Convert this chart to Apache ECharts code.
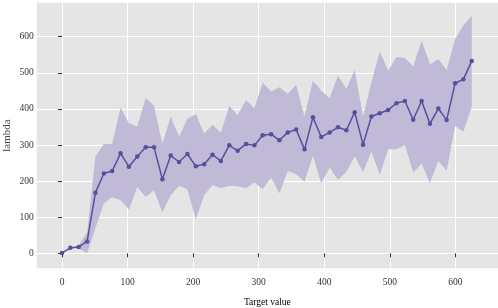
<!DOCTYPE html>
<html>
<head>
<meta charset="utf-8">
<script src="https://cdn.jsdelivr.net/npm/echarts@6/dist/echarts.min.js"></script>
<style>html,body{margin:0;padding:0;background:#fff}#c{width:498px;height:308px}</style>
</head>
<body>
<div id="c"></div>
<script>
var targetValues = [0, 12.8, 25.5, 38.3, 51, 63.8, 76.5, 89.3, 102, 114.8, 127.6, 140.3, 153.1, 165.8, 178.6, 191.3, 204.1, 216.8, 229.6, 242.3, 255.1, 267.9, 280.6, 293.4, 306.1, 318.9, 331.6, 344.4, 357.1, 369.9, 382.7, 395.4, 408.2, 420.9, 433.7, 446.4, 459.2, 471.9, 484.7, 497.4, 510.2, 523, 535.7, 548.5, 561.2, 574, 586.7, 599.5, 612.2, 625];
var lambdaMean = [1, 15, 17.5, 33, 168, 221, 228, 277, 240, 268, 294, 294, 205, 271, 253, 275, 241, 247, 273, 256, 299, 284, 303, 299, 327, 330, 313, 335, 343, 288, 377, 322, 335, 349, 341, 391, 301, 379, 388, 397, 416, 422, 370, 422, 359, 401, 369, 471, 482, 533];
var lambdaUpper = [1, 16, 22, 58, 268, 303, 303, 404, 360, 351, 431, 409, 303, 379, 323, 373, 386, 332, 356, 334, 408, 383, 425, 402, 473, 448, 460, 442, 467, 379, 478, 450, 430, 492, 455, 508, 379, 473, 559, 506, 544, 541, 518, 589, 524, 538, 508, 594, 631, 658];
var lambdaLower = [1, 14, 13, 0, 70, 138, 155, 147, 121, 184, 156, 175, 113, 161, 187, 177, 94, 161, 189, 180, 187, 186, 180, 196, 178, 209, 166, 228, 219, 198, 270, 194, 238, 203, 226, 269, 224, 281, 217, 288, 288, 300, 224, 249, 195, 256, 229, 353, 337, 406];
var xTicks = [0, 100, 200, 300, 400, 500, 600];
var yTicks = [0, 100, 200, 300, 400, 500, 600];

var bandData = targetValues.map(function (x, i) { return [x, lambdaLower[i], lambdaUpper[i]]; });
var meanData = targetValues.map(function (x, i) { return [x, lambdaMean[i]]; });

var font = '"Liberation Serif", "DejaVu Serif", serif';
var chart = echarts.init(document.getElementById('c'), null, {renderer: 'canvas'});
chart.setOption({
  animation: false,
  grid: {left: 36.7, right: 0, top: 2.7, bottom: 39.7, show: true, backgroundColor: '#e5e5e5', borderWidth: 0, containLabel: false, outerBoundsMode: 'none'},
  xAxis: {
    type: 'value', min: -38.6, max: 665,
    name: 'Target value', nameLocation: 'middle', nameGap: 29, nameMoveOverlap: false,
    nameTextStyle: {fontFamily: font, fontSize: 9.5, color: '#000'},
    axisLine: {show: false},
    axisTick: {show: true, length: 4, customValues: xTicks, lineStyle: {color: '#333', width: 1}},
    axisLabel: {customValues: xTicks, fontFamily: font, fontSize: 9.5, color: '#333', margin: 9},
    splitLine: {show: true, lineStyle: {color: '#ffffff', width: 1}}
  },
  yAxis: {
    type: 'value', min: -41.6, max: 694.3,
    name: 'lambda', nameLocation: 'middle', nameGap: 24, nameMoveOverlap: false,
    nameTextStyle: {fontFamily: font, fontSize: 11, color: '#444'},
    axisLine: {show: false},
    axisTick: {show: true, length: 4, customValues: yTicks, lineStyle: {color: '#333', width: 1}},
    axisLabel: {customValues: yTicks, fontFamily: font, fontSize: 9.5, color: '#333', margin: 3},
    splitLine: {show: true, lineStyle: {color: '#ffffff', width: 1}}
  },
  series: [
    {
      type: 'custom', data: bandData, silent: true, z: 1,
      encode: {x: 0, y: [1, 2]},
      renderItem: function (params, api) {
        if (params.dataIndex !== 0) return null;
        var pts = [];
        for (var i = 0; i < targetValues.length; i++) pts.push(api.coord([targetValues[i], lambdaUpper[i]]));
        for (var j = targetValues.length - 1; j >= 0; j--) pts.push(api.coord([targetValues[j], lambdaLower[j]]));
        return {type: 'polygon', shape: {points: pts}, style: {fill: '#c0bad6'}};
      }
    },
    {type: 'line', data: meanData, symbol: 'circle', symbolSize: 4.5, itemStyle: {color: '#5a4d9e'}, lineStyle: {color: '#5a4d9e', width: 1.5}, z: 3}
  ]
});
</script>
</body>
</html>
